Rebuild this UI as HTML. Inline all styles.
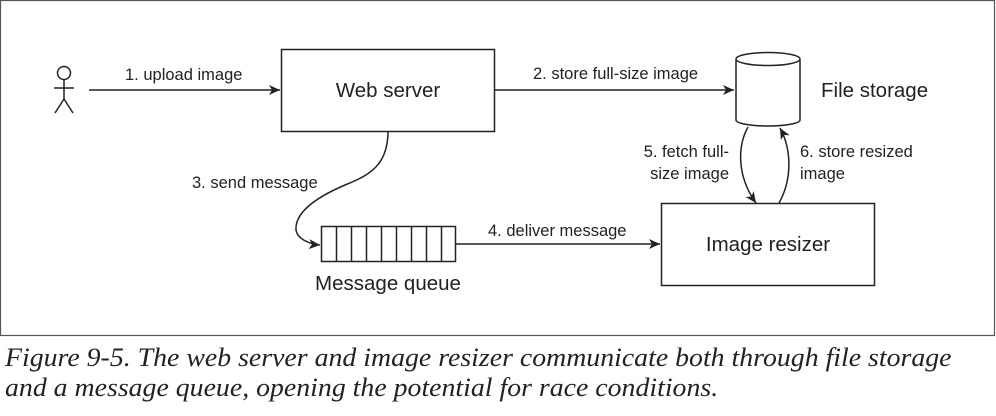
<!DOCTYPE html>
<html><head><meta charset="utf-8"><style>
html,body{margin:0;padding:0;background:#fff;width:996px;height:416px;overflow:hidden}
.cap{position:absolute;left:5px;font-family:"Liberation Serif",serif;font-style:italic;font-size:26px;color:#222;white-space:nowrap;transform:scaleX(1.07);transform-origin:0 0}
</style></head><body>
<svg width="996" height="340" style="position:absolute;left:0;top:0" font-family="Liberation Sans, sans-serif" fill="#222">
<defs><marker id="a" markerWidth="12" markerHeight="10" refX="11" refY="5" orient="auto" markerUnits="userSpaceOnUse"><path d="M0,0 L11,5 L0,10 L3,5 Z" fill="#222"/></marker></defs>
<rect x="0.5" y="0.5" width="994" height="335" fill="none" stroke="#555" stroke-width="1.2"/>
<g stroke="#222" stroke-width="1.5" fill="none">
<circle cx="64" cy="73" r="6.5"/>
<line x1="64" y1="79.5" x2="64" y2="99"/><line x1="54" y1="88" x2="74" y2="88"/>
<path d="M55,113 L64,99 L73,113"/>
<line x1="89" y1="90" x2="280" y2="90" marker-end="url(#a)"/>
<rect x="281.5" y="49.5" width="213" height="82"/>
<line x1="494" y1="90" x2="734" y2="90" marker-end="url(#a)"/>
<path d="M736,60 L736,120 A32,6 0 0 0 800,120 L800,60"/>
<ellipse cx="768" cy="59" rx="32" ry="6.5"/>
<rect x="661.5" y="203.5" width="213" height="82"/>
<rect x="321.5" y="226.5" width="134" height="35"/>
<path d="M336.5,227v35M351.5,227v35M366.5,227v35M381.5,227v35M396.5,227v35M411.5,227v35M426.5,227v35M441.5,227v35"/>
<line x1="455" y1="244" x2="660" y2="244" marker-end="url(#a)"/>
<path d="M388,131 C388,165 370,175 345,185 C310,200 295,215 296,230 C297,238 308,244 320,245" marker-end="url(#a)"/>
<path d="M748,127 C738,145 736,175 756,203" marker-end="url(#a)"/>
<path d="M779,203 C792,180 792,150 780,128" marker-end="url(#a)"/>
</g>
<g font-size="16.5">
<text x="125" y="80">1. upload image</text>
<text x="533" y="79">2. store full-size image</text>
<text x="192" y="188">3. send message</text>
<text x="488" y="236">4. deliver message</text>
<text x="729" y="157" text-anchor="end">5. fetch full-</text>
<text x="729" y="179" text-anchor="end">size image</text>
<text x="800" y="157">6. store resized</text>
<text x="800" y="179">image</text>
</g>
<g font-size="20.5">
<text x="388" y="97" text-anchor="middle">Web server</text>
<text x="821" y="97">File storage</text>
<text x="768" y="251" text-anchor="middle">Image resizer</text>
<text x="388" y="290" text-anchor="middle">Message queue</text>
</g>
</svg>
<div class="cap" style="top:343px">Figure 9-5. The web server and image resizer communicate both through file storage</div>
<div class="cap" style="top:373px">and a message queue, opening the potential for race conditions.</div>
</body></html>
